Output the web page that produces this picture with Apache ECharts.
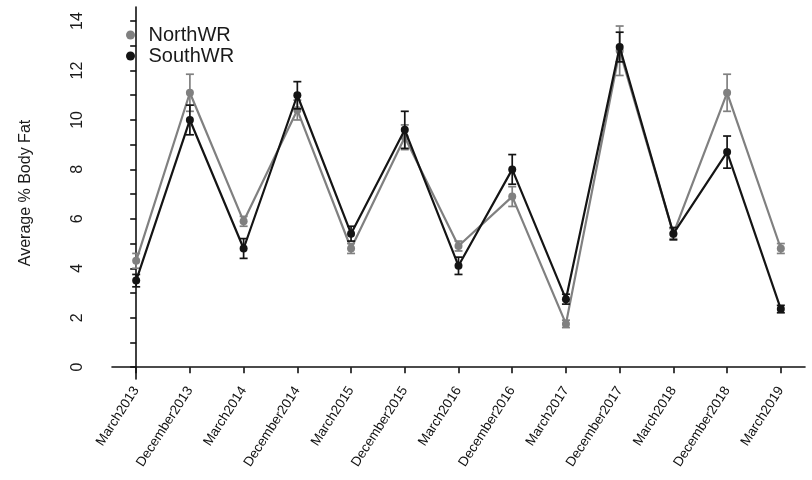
<!DOCTYPE html>
<html>
<head>
<meta charset="utf-8">
<script src="https://cdn.jsdelivr.net/npm/echarts@6/dist/echarts.min.js"></script>
<style>html,body{margin:0;padding:0;background:#fff;}#c{width:812px;height:480px;}</style>
</head>
<body>
<div id="c"></div>
<script>
const categories = ['March2013','December2013','March2014','December2014','March2015','December2015','March2016','December2016','March2017','December2017','March2018','December2018','March2019'];
const northMean = [4.3, 11.1, 5.9, 10.4, 4.8, 9.3, 4.9, 6.9, 1.75, 12.8, 5.4, 11.1, 4.8];
const northSE   = [0.3, 0.75, 0.2, 0.4, 0.2, 0.5, 0.2, 0.4, 0.15, 1.0, 0.2, 0.75, 0.2];
const southMean = [3.5, 10.0, 4.8, 11.0, 5.4, 9.6, 4.1, 8.0, 2.75, 12.95, 5.4, 8.7, 2.35];
const southSE   = [0.25, 0.6, 0.4, 0.55, 0.3, 0.75, 0.35, 0.6, 0.2, 0.6, 0.25, 0.65, 0.15];
const yTicks = [0,1,2,3,4,5,6,7,8,9,10,11,12,13,14];
const yLabels = [0,2,4,6,8,10,12,14];

const northColor = '#808080';
const southColor = '#141414';
const font = 'Liberation Sans, Arial, sans-serif';

function pts(mean){ return mean.map((v,i)=>[i,v]); }
function bars(mean,se){ return mean.map((v,i)=>[i,v-se[i],v+se[i]]); }
function errRender(color){
  return function(params, api){
    const x = api.value(0);
    const lo = api.coord([x, api.value(1)]);
    const hi = api.coord([x, api.value(2)]);
    const w = 4;
    const st = {stroke: color, lineWidth: 1.7};
    return {type:'group', children:[
      {type:'line', shape:{x1:lo[0],y1:lo[1],x2:hi[0],y2:hi[1]}, style:st},
      {type:'line', shape:{x1:lo[0]-w,y1:lo[1],x2:lo[0]+w,y2:lo[1]}, style:st},
      {type:'line', shape:{x1:hi[0]-w,y1:hi[1],x2:hi[0]+w,y2:hi[1]}, style:st}
    ]};
  };
}

const idx = categories.map((c,i)=>i);
const chart = echarts.init(document.getElementById('c'), null, {renderer:'canvas'});
chart.setOption({
  animation:false,
  backgroundColor:'#fff',
  textStyle:{fontFamily:font},
  grid:{left:112, right:7, top:7, bottom:101, containLabel:false},
  legend:{
    data:['NorthWR','SouthWR'],
    orient:'vertical', left:121, top:20, itemGap:1,
    icon:'circle', itemWidth:26, itemHeight:9,
    textStyle:{fontSize:20, color:'#1a1a1a', fontFamily:font, lineHeight:19}
  },
  xAxis:{
    type:'value', min:-0.45, max:12.45,
    splitLine:{show:false},
    axisLine:{show:true, lineStyle:{color:'#111', width:1.6}},
    axisTick:{show:true, length:6, lineStyle:{color:'#111', width:1.6}, customValues:idx},
    axisLabel:{customValues:idx, rotate:57, fontSize:13.5, color:'#111', margin:9,
      formatter:(v)=>categories[Math.round(v)]}
  },
  yAxis:{
    type:'value', min:-0.48, max:14.57,
    name:'Average % Body Fat', nameLocation:'middle', nameGap:78,
    nameTextStyle:{fontSize:16, color:'#1a1a1a', fontFamily:font},
    splitLine:{show:false},
    axisLine:{show:true, lineStyle:{color:'#111', width:1.6}},
    axisTick:{show:true, length:6, lineStyle:{color:'#111', width:1.6}, customValues:yTicks},
    axisLabel:{customValues:yLabels, rotate:90, fontSize:16, color:'#1a1a1a', margin:26}
  },
  series:[
    {name:'NorthWR', type:'line', data:pts(northMean), symbol:'circle', symbolSize:8,
      itemStyle:{color:northColor}, lineStyle:{color:northColor, width:2.2}, z:2},
    {name:'northErr', type:'custom', data:bars(northMean,northSE), renderItem:errRender(northColor), z:2},
    {name:'SouthWR', type:'line', data:pts(southMean), symbol:'circle', symbolSize:8,
      itemStyle:{color:southColor}, lineStyle:{color:southColor, width:2.2}, z:3},
    {name:'southErr', type:'custom', data:bars(southMean,southSE), renderItem:errRender(southColor), z:3}
  ]
});
</script>
</body>
</html>
